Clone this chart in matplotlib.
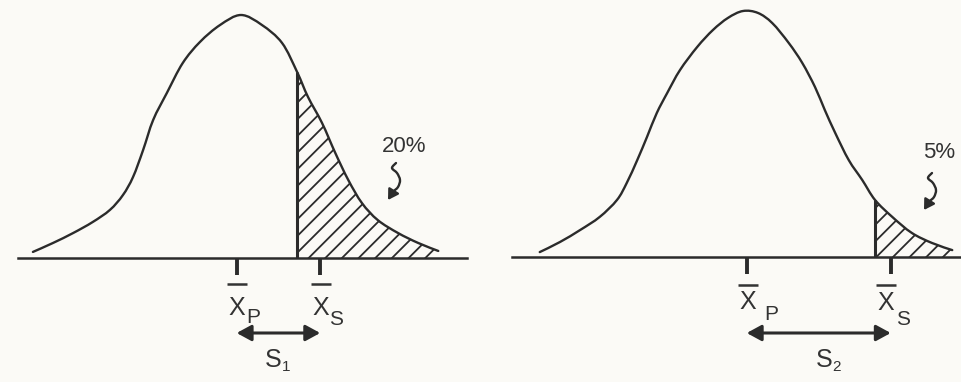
import numpy as np
import matplotlib
matplotlib.use("Agg")
import matplotlib.pyplot as plt
from matplotlib.path import Path
from matplotlib.patches import PathPatch, FancyArrowPatch
import matplotlib.transforms as mtransforms

# ---------------- data (x in SD units from the peak, height relative to the peak) ----------------
left_curve_x = [-2.89, -2.61, -2.33, -2.06, -1.82, -1.64, -1.50, -1.36, -1.22, -1.03, -0.81, -0.57,
                -0.29, 0.00, 0.29, 0.57, 0.78, 0.93, 1.125, 1.31, 1.49, 1.68, 1.90, 2.18, 2.46, 2.74]
left_curve_y = [0.025, 0.062, 0.103, 0.148, 0.198, 0.259, 0.333, 0.444, 0.568, 0.679, 0.802, 0.889,
                0.959, 1.000, 0.959, 0.885, 0.765, 0.663, 0.556, 0.432, 0.321, 0.226, 0.156, 0.103,
                0.062, 0.029]
right_curve_x = [-2.71, -2.44, -2.17, -1.91, -1.68, -1.55, -1.41, -1.28, -1.15, -1.01, -0.84, -0.61,
                 -0.40, -0.20, 0.00, 0.20, 0.39, 0.61, 0.79, 0.96, 1.09, 1.23, 1.41, 1.59, 1.76,
                 1.99, 2.25, 2.52, 2.79]
right_curve_y = [0.020, 0.061, 0.110, 0.163, 0.232, 0.301, 0.394, 0.488, 0.585, 0.667, 0.760, 0.854,
                 0.923, 0.972, 1.000, 0.992, 0.951, 0.870, 0.789, 0.691, 0.598, 0.504, 0.394, 0.313,
                 0.232, 0.163, 0.098, 0.057, 0.028]
tail_cut = [0.78, 1.76]          # start of shaded tail
tail_labels = ["20%", "5%"]
xbar_p = [-0.06, 0.05]           # position of X-bar P
xbar_s = [1.10, 1.97]            # position of X-bar S
spread_sub = ["1", "2"]

INK = "#2b2b2b"
TXT = "#333333"
BG = "#fbfaf6"

plt.rcParams.update({
    "font.family": ["Liberation Sans", "DejaVu Sans"],
    "hatch.linewidth": 1.3,
})

W, H = 962, 382
fig = plt.figure(figsize=(W / 100, H / 100), dpi=100, facecolor=BG)

# layout (pixels): panel left, peak x, px per SD, baseline y, peak height, baseline extent,
# plus text offsets (dx from tick, baseline y)
layouts = [
    dict(x0=0, peak=241, sd=72, base=258, height=243, line=(18, 467),
         xp_lbl=(0, 315), p_sub=(10, 323), xs_lbl=(1, 315), s_sub=(9, 325),
         bar_y=284, arrow_y=333, S_lbl=(265, 367), S_sub=(282, 371),
         pct=(404, 152), tip=(388, 200)),
    dict(x0=481, peak=743, sd=75, base=257, height=246, line=(512, 962),
         xp_lbl=(1, 309), p_sub=(17, 320), xs_lbl=(-5, 310), s_sub=(5, 325),
         bar_y=285, arrow_y=333, S_lbl=(816, 367), S_sub=(832, 371),
         pct=(939, 158), tip=(924, 210)),
]
curves = [(left_curve_x, left_curve_y), (right_curve_x, right_curve_y)]

# squiggle shape (pixels relative to arrow tip, y up)
squiggle = [(8, 37), (4, 32), (9, 27), (12, 20), (10, 13), (5, 8), (0, 0)]


def catmull_segments(P):
    P = np.asarray(P, float)
    n = len(P)
    segs = []
    for i in range(n - 1):
        p0 = P[i - 1] if i > 0 else P[i]
        p1, p2 = P[i], P[i + 1]
        p3 = P[i + 2] if i + 2 < n else P[i + 1]
        segs.append((p1 + (p2 - p0) / 6.0, p2 - (p3 - p1) / 6.0, p2))
    return segs


for k, L in enumerate(layouts):
    ax = fig.add_axes([L["x0"] / W, 0, 481 / W, 1])
    ax.set_facecolor(BG)
    ax.set_xlim((L["x0"] - L["peak"]) / L["sd"], (L["x0"] + 481 - L["peak"]) / L["sd"])
    ax.set_ylim((L["base"] - H) / L["height"], L["base"] / L["height"])
    ax.axis("off")

    def hy(py, L=L):
        return (L["base"] - py) / L["height"]

    def dx(px, L=L):
        return px / L["sd"]

    def xd(px, L=L):
        return (px - L["peak"]) / L["sd"]

    cx, cy = curves[k]
    P = np.column_stack([cx, cy])
    segs = catmull_segments(P)

    # curve
    verts = [P[0]]
    codes = [Path.MOVETO]
    for c1, c2, p2 in segs:
        verts += [c1, c2, p2]
        codes += [Path.CURVE4] * 3
    ax.add_patch(PathPatch(Path(verts, codes), facecolor="none", edgecolor=INK, lw=1.7,
                           capstyle="round", joinstyle="round", zorder=3))

    # shaded tail
    ci = int(np.argmin(np.abs(np.asarray(cx) - tail_cut[k])))
    fv = [(cx[ci], 0.0), (cx[ci], cy[ci])]
    fc = [Path.MOVETO, Path.LINETO]
    for c1, c2, p2 in segs[ci:]:
        fv += [c1, c2, p2]
        fc += [Path.CURVE4] * 3
    fv += [(cx[-1], 0.0), (cx[ci], 0.0)]
    fc += [Path.LINETO, Path.CLOSEPOLY]
    ax.add_patch(PathPatch(Path(fv, fc), facecolor="none", edgecolor=INK, lw=0,
                           hatch="//", zorder=2))
    ax.plot([cx[ci], cx[ci]], [0, cy[ci]], color=INK, lw=2.2, solid_capstyle="butt", zorder=3)

    # baseline
    ax.plot([xd(L["line"][0]), xd(L["line"][1])], [0, 0], color=INK, lw=1.8, zorder=3)

    # ticks
    for xv in (xbar_p[k], xbar_s[k]):
        ax.plot([xv, xv], [0, hy(L["base"] + 17)], color=INK, lw=2.8,
                solid_capstyle="butt", zorder=3)

    # labels under ticks: X with an over-bar and a subscript
    xp, xs = xbar_p[k], xbar_s[k]
    for xv, lbl, sub_off, sub in ((xp, L["xp_lbl"], L["p_sub"], "P"),
                                  (xs, L["xs_lbl"], L["s_sub"], "S")):
        xc = xv + dx(lbl[0])
        ax.text(xc, hy(lbl[1]), "X", ha="center", va="baseline", fontsize=18, color=TXT)
        ax.plot([xc - dx(10), xc + dx(10)], [hy(L["bar_y"])] * 2, color=TXT, lw=1.8,
                solid_capstyle="butt")
        ax.text(xv + dx(sub_off[0]), hy(sub_off[1]), sub,
                ha="left", va="baseline", fontsize=15, color=TXT)

    # double arrow between the means
    ya = hy(L["arrow_y"])
    ax.add_patch(FancyArrowPatch((xp, ya), (xs, ya),
                                 arrowstyle="<|-|>,head_length=0.55,head_width=0.3",
                                 mutation_scale=16, lw=2.2, color=INK,
                                 shrinkA=0, shrinkB=0, zorder=3))
    ax.text(xd(L["S_lbl"][0]), hy(L["S_lbl"][1]), "S",
            ha="left", va="baseline", fontsize=18, color=TXT)
    ax.text(xd(L["S_sub"][0]), hy(L["S_sub"][1]), spread_sub[k],
            ha="left", va="baseline", fontsize=11, color=TXT)

    # percentage label and squiggly arrow
    ax.text(xd(L["pct"][0]), hy(L["pct"][1]), tail_labels[k],
            ha="center", va="baseline", fontsize=16, color=TXT)
    tip = (xd(L["tip"][0]), hy(L["tip"][1]))
    trans = mtransforms.Affine2D().scale(fig.dpi / 100.0) + \
        mtransforms.ScaledTranslation(tip[0], tip[1], ax.transData)
    Q = np.array(squiggle, float)
    qs = catmull_segments(Q)
    qv = [Q[0]]
    qc = [Path.MOVETO]
    for c1, c2, p2 in qs:
        qv += [c1, c2, p2]
        qc += [Path.CURVE4] * 3
    ax.add_patch(FancyArrowPatch(path=Path(qv, qc), transform=trans,
                                 arrowstyle="-|>,head_length=0.5,head_width=0.3",
                                 mutation_scale=12, lw=1.7, color=INK, zorder=3))

fig.savefig("out.png", dpi=100, facecolor=BG)
